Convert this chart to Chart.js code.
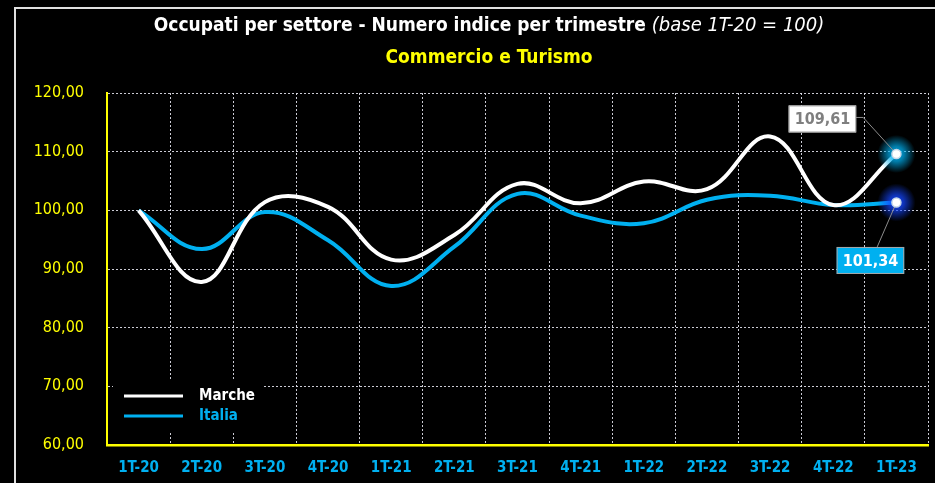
<!DOCTYPE html>
<html>
<head>
<meta charset="utf-8">
<script src="https://cdn.jsdelivr.net/npm/chart.js@4/dist/chart.umd.min.js"></script>
<style>
  html, body { margin: 0; padding: 0; background: #000; }
  #wrap { width: 935px; height: 483px; }
</style>
</head>
<body>
<div id="wrap"><canvas id="myChart" width="935" height="483"></canvas></div>
<script>
const categories = ['1T-20', '2T-20', '3T-20', '4T-20', '1T-21', '2T-21', '3T-21', '4T-21', '1T-22', '2T-22', '3T-22', '4T-22', '1T-23'];
const marche = [100, 87.8, 101.4, 100.6, 91.6, 95.8, 104.5, 101.2, 104.9, 103.6, 112.6, 100.9, 109.61];
const italia = [100, 93.4, 99.7, 94.9, 87.1, 93.8, 102.8, 99.1, 97.8, 101.8, 102.5, 100.9, 101.34];
const yMin = 60;
const yMax = 120;
const yStep = 10;

const FONT = '"Liberation Sans Narrow", "DejaVu Sans Condensed", "Open Sans", sans-serif';
const WHITE = '#ffffff';
const BLUE = '#00b0f0';
const YELLOW = '#ffff00';

function fmt(v) {
    return v.toFixed(2).replace('.', ',');
}

// black background and the white frame line
const framePlugin = {
    id: 'frame',
    beforeDraw(chart) {
        const c = chart.ctx;
        c.save();
        c.fillStyle = '#000';
        c.fillRect(0, 0, chart.width, chart.height);
        c.strokeStyle = '#e0e0e0';
        c.lineWidth = 2;
        c.beginPath();
        c.moveTo(15, chart.height + 5);
        c.lineTo(15, 8);
        c.lineTo(chart.width + 5, 8);
        c.stroke();
        c.restore();
    }
};

// two-line title, second part of line 1 in italic
const titlePlugin = {
    id: 'titles',
    afterDraw(chart) {
        const c = chart.ctx;
        const cx = 489;
        const part1 = 'Occupati per settore - Numero indice per trimestre ';
        const part2 = '(base 1T-20 = 100)';
        c.save();
        c.textBaseline = 'middle';
        c.textAlign = 'left';
        c.font = 'bold 19px ' + FONT;
        const w1 = c.measureText(part1).width;
        c.font = 'italic 20px ' + FONT;
        const w2 = c.measureText(part2).width;
        let x = cx - (w1 + w2) / 2;
        c.fillStyle = WHITE;
        c.font = 'bold 19px ' + FONT;
        c.fillText(part1, x, 26);
        c.font = 'italic 20px ' + FONT;
        c.fillText(part2, x + w1, 26);

        c.textAlign = 'center';
        c.font = 'bold 19px ' + FONT;
        c.fillStyle = YELLOW;
        c.fillText('Commercio e Turismo', cx, 58);
        c.restore();
    }
};

// legend drawn inside the plot, bottom left, on a black patch
const legendPlugin = {
    id: 'innerLegend',
    afterDraw(chart) {
        const c = chart.ctx;
        const area = chart.chartArea;
        const x0 = area.left + 6;
        const y0 = area.bottom - 64;
        c.save();
        c.fillStyle = '#000';
        c.fillRect(x0, y0, 150, 51);
        chart.data.datasets.forEach((ds, i) => {
            const y = y0 + 15 + i * 20;
            c.strokeStyle = ds.borderColor;
            c.lineWidth = 3;
            c.beginPath();
            c.moveTo(x0 + 11, y);
            c.lineTo(x0 + 70, y);
            c.stroke();
            c.fillStyle = ds.borderColor;
            c.font = 'bold 15px ' + FONT;
            c.textBaseline = 'middle';
            c.textAlign = 'left';
            c.fillText(ds.label, x0 + 86, y);
        });
        c.restore();
    }
};

// glowing last points with their value boxes
const endPointPlugin = {
    id: 'endPoints',
    afterDatasetsDraw(chart) {
        const c = chart.ctx;
        const styles = [
            { glow: 'rgba(0,176,240,', box: '#ffffff', text: '#7f7f7f', dx: -74, dy: -35 },
            { glow: 'rgba(20,70,255,', box: BLUE, text: '#ffffff', dx: -26, dy: 58 }
        ];
        chart.data.datasets.forEach((ds, i) => {
            const meta = chart.getDatasetMeta(i);
            const last = meta.data.length - 1;
            const pt = meta.data[last];
            const st = styles[i];
            c.save();
            const g = c.createRadialGradient(pt.x, pt.y, 0, pt.x, pt.y, 19);
            g.addColorStop(0, st.glow + '1)');
            g.addColorStop(0.4, st.glow + '0.7)');
            g.addColorStop(1, st.glow + '0)');
            c.fillStyle = g;
            c.beginPath();
            c.arc(pt.x, pt.y, 19, 0, Math.PI * 2);
            c.fill();

            // value box
            const label = fmt(ds.data[last]);
            c.font = 'bold 16px ' + FONT;
            const tw = c.measureText(label).width;
            const bw = tw + 12;
            const bh = 27;
            const bx = pt.x + st.dx - bw / 2;
            const by = pt.y + st.dy - bh / 2;

            // leader line
            c.strokeStyle = '#8c8c8c';
            c.lineWidth = 1;
            c.beginPath();
            if (i === 0) {
                c.moveTo(bx + bw, by + 12);
                c.lineTo(bx + bw + 7, by + 12);
                c.lineTo(pt.x, pt.y);
            } else {
                c.moveTo(bx + bw * 0.6, by);
                c.lineTo(pt.x, pt.y);
            }
            c.stroke();

            c.fillStyle = st.box;
            c.fillRect(bx, by, bw, bh);
            c.strokeStyle = '#a6a6a6';
            c.strokeRect(bx + 0.5, by + 0.5, bw - 1, bh - 1);
            c.fillStyle = st.text;
            c.textAlign = 'center';
            c.textBaseline = 'middle';
            c.fillText(label, bx + bw / 2, by + bh / 2 + 1);

            // dot
            c.fillStyle = '#ffffff';
            c.strokeStyle = '#c8d8e8';
            c.lineWidth = 1.5;
            c.beginPath();
            c.arc(pt.x, pt.y, 4.5, 0, Math.PI * 2);
            c.fill();
            c.stroke();
            c.restore();
        });
    }
};

const gridColor = 'rgba(225,225,235,0.9)';

const ctx = document.getElementById('myChart').getContext('2d');
const myChart = new Chart(ctx, {
    type: 'line',
    data: {
        labels: categories,
        datasets: [{
            label: 'Marche',
            data: marche,
            borderColor: WHITE,
            borderWidth: 4,
            pointRadius: 0,
            tension: 0.4,
            fill: false
        }, {
            label: 'Italia',
            data: italia,
            borderColor: BLUE,
            borderWidth: 4,
            pointRadius: 0,
            tension: 0.4,
            fill: false
        }]
    },
    options: {
        responsive: false,
        animation: false,
        devicePixelRatio: 1,
        layout: {
            padding: { left: 0, right: 7, top: 93, bottom: 0 }
        },
        plugins: {
            legend: { display: false },
            title: { display: false },
            tooltip: { enabled: false }
        },
        scales: {
            x: {
                offset: true,
                grid: {
                    offset: true,
                    color: gridColor,
                    lineWidth: 1,
                    drawTicks: false
                },
                border: { color: YELLOW, width: 2.5, dash: [2, 2] },
                ticks: {
                    color: BLUE,
                    font: { family: FONT, size: 15, weight: 'bold' },
                    padding: 14,
                    maxRotation: 0,
                    autoSkip: false
                },
                afterFit(scale) { scale.height = 38; }
            },
            y: {
                min: yMin,
                max: yMax,
                grid: {
                    color: gridColor,
                    lineWidth: 1,
                    drawTicks: false
                },
                border: { color: YELLOW, width: 2, dash: [2, 2] },
                ticks: {
                    stepSize: yStep,
                    color: YELLOW,
                    font: { family: FONT, size: 16 },
                    padding: 23,
                    callback: v => fmt(v)
                },
                afterFit(scale) { scale.width = 107; }
            }
        }
    },
    plugins: [framePlugin, titlePlugin, legendPlugin, endPointPlugin]
});
</script>
</body>
</html>
